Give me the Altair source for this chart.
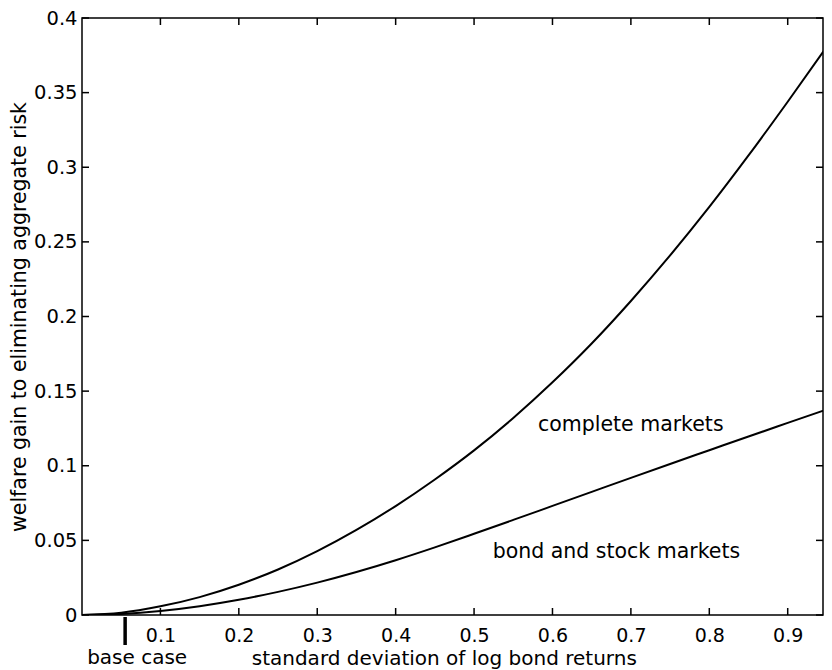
import altair as alt
import pandas as pd

# data
sigma = [0.0, 0.05, 0.1, 0.15, 0.2, 0.25, 0.3, 0.35, 0.4, 0.45, 0.5,
         0.55, 0.6, 0.65, 0.7, 0.75, 0.8, 0.85, 0.9, 0.955]
complete_markets = [0.0, 0.0015, 0.0058, 0.0120, 0.0203, 0.0305, 0.0428, 0.0570,
                    0.0730, 0.0908, 0.1103, 0.1320, 0.1559, 0.1819, 0.2104, 0.2409,
                    0.2734, 0.3079, 0.3439, 0.3846]
bond_stock_markets = [0.0, 0.0007, 0.0027, 0.0059, 0.0102, 0.0155, 0.0217, 0.0288,
                      0.0367, 0.0453, 0.0544, 0.0637, 0.0731, 0.0825, 0.0919,
                      0.1012, 0.1104, 0.1196, 0.1287, 0.1387]
series_names = ["complete markets", "bond and stock markets"]
label_x = [0.5814, 0.5237]
label_y = [0.1273, 0.0424]
base_case = 0.055
x_ticks = [0.1, 0.2, 0.3, 0.4, 0.5, 0.6, 0.7, 0.8, 0.9]
y_ticks = [0, 0.05, 0.1, 0.15, 0.2, 0.25, 0.3, 0.35, 0.4]

W, H = 741, 597
FONT = "DejaVu Sans"

rows = []
for name, vals in zip(series_names, [complete_markets, bond_stock_markets]):
    for s, v in zip(sigma, vals):
        rows.append({"sigma": s, "gain": v, "series": name})
df = pd.DataFrame(rows)
labels_df = pd.DataFrame({"x": label_x, "y": label_y, "text": series_names})
xt_df = pd.DataFrame({"x": x_ticks})
yt_df = pd.DataFrame({"y": y_ticks})
base_df = pd.DataFrame({"x": [base_case], "text": ["base case"]})

xscale = alt.Scale(domain=[0, 0.945], nice=False, zero=False)
yscale = alt.Scale(domain=[0, 0.4], nice=False)

xaxis = alt.Axis(values=x_ticks, format=".1f", grid=False, ticks=False, tickSize=0,
                 domain=False, labelFont=FONT, labelFontSize=19, labelColor="black",
                 labelBaseline="alphabetic", labelPadding=26,
                 title="standard deviation of log bond returns",
                 titleFont=FONT, titleFontSize=20, titleFontWeight="normal",
                 titleColor="black", titleX=(0.455 * W / 0.945) + 5, titleY=49,
                 titleBaseline="alphabetic", titleAlign="center")
yaxis = alt.Axis(values=y_ticks, labelExpr="format(datum.value, '~g')", grid=False,
                 ticks=False, tickSize=0, domain=False, labelFont=FONT,
                 labelFontSize=19.5, labelColor="black", labelPadding=5,
                 labelBaseline="middle",
                 title="welfare gain to eliminating aggregate risk",
                 titleFont=FONT, titleFontSize=20.5, titleFontWeight="normal",
                 titleColor="black", titleX=-57, titleY=H / 2, titleAngle=270,
                 titleBaseline="alphabetic", titleAlign="center")

lines = alt.Chart(df).mark_line(color="black", strokeWidth=2, interpolate="monotone",
                                clip=True).encode(
    x=alt.X("sigma:Q", scale=xscale, axis=xaxis),
    y=alt.Y("gain:Q", scale=yscale, axis=yaxis),
    detail="series:N",
)

labels = alt.Chart(labels_df).mark_text(font=FONT, fontSize=20.5, align="left",
                                        baseline="middle", color="black").encode(
    x=alt.X("x:Q", scale=xscale), y=alt.Y("y:Q", scale=yscale), text="text:N")

tick_b = alt.Chart(xt_df).mark_rule(color="black", strokeWidth=1.5).encode(
    x=alt.X("x:Q", scale=xscale), y=alt.value(H), y2=alt.value(H - 7))
tick_t = alt.Chart(xt_df).mark_rule(color="black", strokeWidth=1.5).encode(
    x=alt.X("x:Q", scale=xscale), y=alt.value(0), y2=alt.value(7))
tick_l = alt.Chart(yt_df).mark_rule(color="black", strokeWidth=1.5).encode(
    y=alt.Y("y:Q", scale=yscale), x=alt.value(0), x2=alt.value(7))
tick_r = alt.Chart(yt_df).mark_rule(color="black", strokeWidth=1.5).encode(
    y=alt.Y("y:Q", scale=yscale), x=alt.value(W), x2=alt.value(W - 7))

base_rule = alt.Chart(base_df).mark_rule(color="black", strokeWidth=3.5, clip=False).encode(
    x=alt.X("x:Q", scale=xscale), y=alt.value(H + 2), y2=alt.value(H + 30))
base_text = alt.Chart(base_df).mark_text(font=FONT, fontSize=20, align="center",
                                         baseline="alphabetic", color="black",
                                         dx=12, clip=False).encode(
    x=alt.X("x:Q", scale=xscale), y=alt.value(H + 49), text="text:N")

chart = alt.layer(lines, labels, tick_b, tick_t, tick_l, tick_r, base_rule, base_text).properties(
    width=W, height=H,
    autosize=alt.AutoSizeParams(type="none"),
    padding={"left": 74, "top": 10, "right": 1, "bottom": 55},
    background="white",
).configure_view(stroke="black", strokeWidth=1.5)

chart.save("out.html", embed_options={"renderer": "svg", "actions": False})
